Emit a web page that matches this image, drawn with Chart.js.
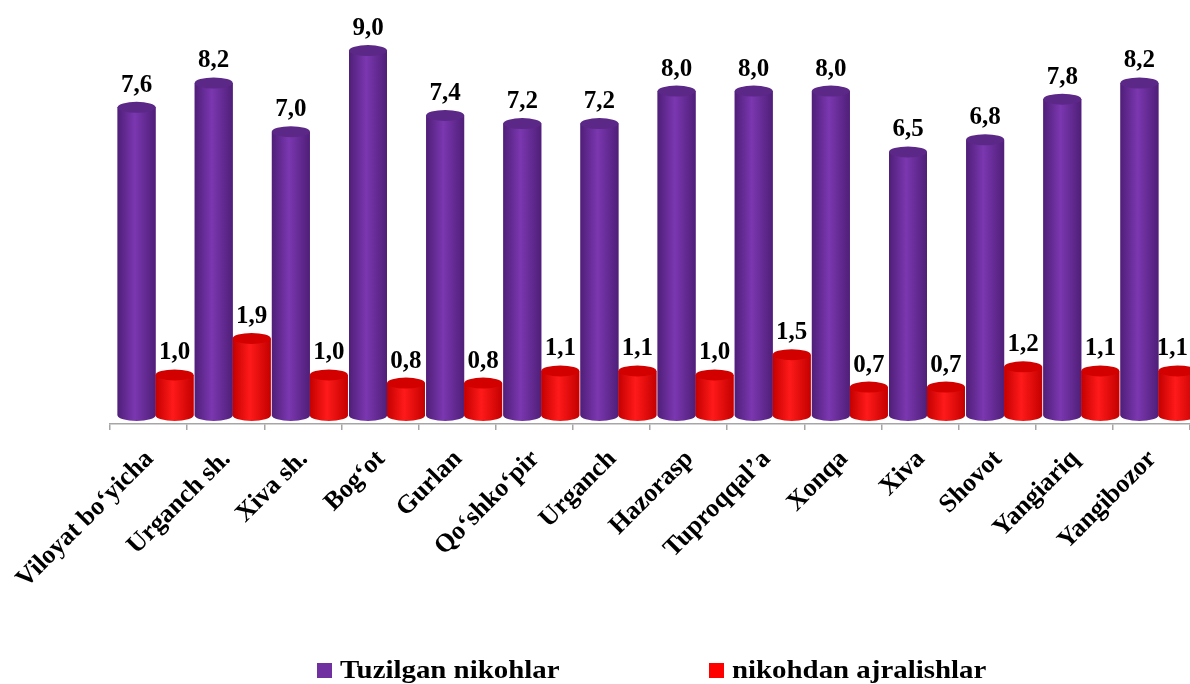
<!DOCTYPE html>
<html>
<head>
<meta charset="utf-8">
<script src="https://cdn.jsdelivr.net/npm/chart.js@4.4.1/dist/chart.umd.min.js"></script>
<style>
html, body { margin: 0; padding: 0; background: #fff; }
#chart-container { width: 1190px; height: 684px; }
</style>
</head>
<body>
<div id="chart-container"><canvas id="chart"></canvas></div>
<script>
const categories = ["Viloyat bo‘yicha", "Urganch sh.", "Xiva sh.", "Bog‘ot", "Gurlan", "Qo‘shko‘pir", "Urganch",
                    "Hazorasp", "Tuproqqal’a", "Xonqa", "Xiva", "Shovot", "Yangiariq", "Yangibozor"];
const marriages = [7.6, 8.2, 7.0, 9.0, 7.4, 7.2, 7.2, 8.0, 8.0, 8.0, 6.5, 6.8, 7.8, 8.2];
const divorces = [1.0, 1.9, 1.0, 0.8, 0.8, 1.1, 1.1, 1.0, 1.5, 0.7, 0.7, 1.2, 1.1, 1.1];
const seriesNames = ["Tuzilgan nikohlar", "nikohdan ajralishlar"];
const seriesColors = ["#7030A0", "#FF0000"];

const FONT = "'Liberation Serif', 'Times New Roman', serif";
const SHIFT = 7; // 3D depth offset of the bars to the right of the category
const shades = [
    {dark: "#4f1f78", mid: "#7b37b0", top: "#5c2888"},
    {dark: "#c40000", mid: "#ff1a1a", top: "#d30000"}
];

function fmt(v){
    return v.toFixed(1).replace(".", ",");
}

const cylinders = {
    id: "cylinders",
    beforeDatasetsDraw(chart){
        chart.ctx.save();
        chart.ctx.translate(SHIFT, 0);
    },
    afterDatasetsDraw(chart){
        const ctx = chart.ctx;
        const metas = [chart.getDatasetMeta(0), chart.getDatasetMeta(1)];
        const ry = 5.5;

        for(let i = 0; i < categories.length; i++){
            metas.forEach((meta, d) => {
                const bar = meta.data[i];
                const half = bar.width / 2;
                const x0 = bar.x - half, x1 = bar.x + half;
                const g = ctx.createLinearGradient(x0, 0, x1, 0);
                g.addColorStop(0, shades[d].dark);
                g.addColorStop(0.45, shades[d].mid);
                g.addColorStop(1, shades[d].dark);

                ctx.fillStyle = g;
                ctx.beginPath();
                ctx.moveTo(x0, bar.y);
                ctx.lineTo(x0, bar.base);
                ctx.ellipse(bar.x, bar.base, half, ry, 0, Math.PI, 0, true);
                ctx.lineTo(x1, bar.y);
                ctx.closePath();
                ctx.fill();

                ctx.fillStyle = shades[d].top;
                ctx.beginPath();
                ctx.ellipse(bar.x, bar.y, half, ry, 0, 0, Math.PI * 2);
                ctx.fill();
            });
        }

        // value labels
        ctx.fillStyle = "#000";
        ctx.font = "bold 25px " + FONT;
        ctx.textAlign = "center";
        ctx.textBaseline = "alphabetic";
        metas.forEach((meta, d) => {
            const values = d === 0 ? marriages : divorces;
            meta.data.forEach((bar, i) => {
                const text = fmt(values[i]);
                const w = ctx.measureText(text).width;
                const x = Math.min(bar.x, chart.width - SHIFT - w / 2 - 2);
                ctx.fillText(text, x, bar.y - ry - 10);
            });
        });
        ctx.restore();
    },
    afterDraw(chart){
        const ctx = chart.ctx;
        const items = [{x: 317, name: seriesNames[0], color: seriesColors[0]},
                       {x: 709, name: seriesNames[1], color: seriesColors[1]}];
        ctx.save();
        ctx.font = "bold 26px " + FONT;
        ctx.textAlign = "left";
        ctx.textBaseline = "alphabetic";
        items.forEach(it => {
            ctx.fillStyle = it.color;
            ctx.fillRect(it.x, 663, 15, 15);
            ctx.save();
            ctx.translate(it.x + 23, 678);
            ctx.scale(1.11, 1);
            ctx.fillStyle = "#000";
            ctx.fillText(it.name, 0, 0);
            ctx.restore();
        });
        ctx.restore();
    }
};

const ctx = document.getElementById("chart").getContext("2d");

new Chart(ctx, {
    type: "bar",
    data: {
        labels: categories,
        datasets: [{
            label: seriesNames[0],
            data: marriages,
            backgroundColor: seriesColors[0],
            barPercentage: 1,
            categoryPercentage: 0.985
        },
        {
            label: seriesNames[1],
            data: divorces,
            backgroundColor: seriesColors[1],
            barPercentage: 1,
            categoryPercentage: 0.985
        }]
    },
    options: {
        responsive: true,
        maintainAspectRatio: false,
        animation: false,
        layout: {padding: {top: 10, bottom: 60, left: 0, right: 0}},
        plugins: {
            legend: {display: false},
            tooltip: {enabled: false}
        },
        scales: {
            x: {
                grid: {offset: true, drawOnChartArea: false, color: "#a6a6a6", tickLength: 6, lineWidth: 1.5},
                border: {color: "#a6a6a6", width: 1.5},
                ticks: {
                    color: "#000",
                    font: {family: FONT, size: 26, weight: "bold"},
                    minRotation: 45,
                    maxRotation: 45,
                    autoSkip: false,
                    labelOffset: 1,
                    padding: 14
                },
                afterFit(scale){
                    scale.height = 200;
                    scale.paddingLeft = 110;
                    scale.paddingRight = 0;
                }
            },
            y: {display: false, min: -0.21, max: 10}
        }
    },
    plugins: [cylinders]
});
</script>
</body>
</html>
